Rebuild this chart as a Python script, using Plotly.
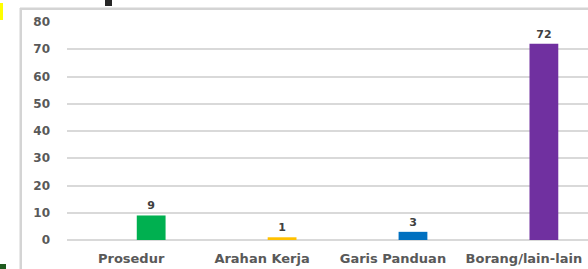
import plotly.graph_objects as go

categories = ["Prosedur", "Arahan Kerja", "Garis Panduan", "Borang/lain-lain"]
values = [9, 1, 3, 72]
colors = ["#00B050", "#FFC000", "#0070C0", "#7030A0"]
y_ticks = [0, 10, 20, 30, 40, 50, 60, 70, 80]

W, H = 588, 269
L, R, T, B = 67, 0, 22, 29
pw = W - L - R
ph = H - T - B

def px_x(x):
    return (x - L) / pw

def px_y(y):
    return 1 - (y - T) / ph

FONT = "DejaVu Sans"

fig = go.Figure()
fig.add_trace(go.Bar(
    x=list(range(len(categories))),
    y=values,
    marker=dict(color=colors, line=dict(width=0)),
    width=0.22,
    offset=0.043,
    text=[str(v) for v in values],
    textposition="outside",
    textfont=dict(family=FONT, size=11, color="#404040", weight="bold"),
    cliponaxis=False,
))

fig.update_layout(
    width=W, height=H,
    margin=dict(l=L, r=R, t=T, b=B, autoexpand=False),
    paper_bgcolor="white", plot_bgcolor="white",
    showlegend=False,
    font=dict(family=FONT, color="#595959"),
    xaxis=dict(
        tickmode="array",
        tickvals=list(range(len(categories))),
        ticktext=categories,
        range=[-0.49, 3.49],
        automargin=False,
        showgrid=False, zeroline=False, showline=False,
        tickfont=dict(family=FONT, size=13, color="#595959", weight="bold"),
        ticks="", ticklabelstandoff=9, ticklabeloverflow="allow",
    ),
    yaxis=dict(
        range=[0, 80],
        tickvals=y_ticks,
        automargin=False,
        showgrid=True, gridcolor="#D9D9D9", gridwidth=1.5,
        zeroline=True, zerolinecolor="#D9D9D9", zerolinewidth=1.5,
        showline=False,
        tickfont=dict(family=FONT, size=12, color="#595959", weight="bold"),
        ticks="", ticklabelstandoff=16,
    ),
    shapes=[
        dict(type="line", xref="paper", yref="paper",
             x0=px_x(20), x1=px_x(W + 5), y0=px_y(8.5), y1=px_y(8.5),
             line=dict(color="#D4D4D4", width=2)),
        dict(type="line", xref="paper", yref="paper",
             x0=px_x(20.5), x1=px_x(20.5), y0=px_y(8), y1=px_y(H + 5),
             line=dict(color="#D4D4D4", width=2)),
        dict(type="rect", xref="paper", yref="paper",
             x0=px_x(0), x1=px_x(3), y0=px_y(3), y1=px_y(20),
             fillcolor="#FFFF00", line=dict(width=0)),
        dict(type="rect", xref="paper", yref="paper",
             x0=px_x(105), x1=px_x(112), y0=px_y(0), y1=px_y(6),
             fillcolor="#262626", line=dict(width=0)),
        dict(type="rect", xref="paper", yref="paper",
             x0=px_x(0), x1=px_x(6), y0=px_y(264), y1=px_y(269),
             fillcolor="#1E5A1E", line=dict(width=0)),
    ],
    annotations=[
        dict(text=" ", showarrow=False, xref="paper", yref="paper",
             x=px_x(19.5), y=px_y(7.5), xanchor="left", yanchor="top",
             width=W, height=H, borderpad=0,
             bordercolor="#D4D4D4", borderwidth=2),
    ],
)

fig.write_html(
    "out.html",
    config={"displayModeBar": False},
    post_script=(
        "document.body.style.margin='0px';"
        "document.body.style.overflow='hidden';"
    ),
)
